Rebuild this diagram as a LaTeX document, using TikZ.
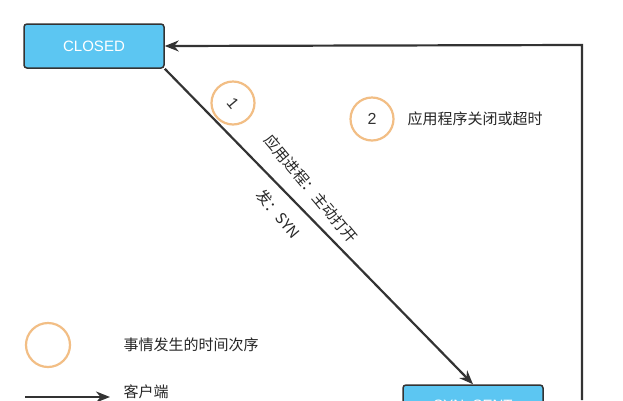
\documentclass[tikz,border=0pt]{standalone}
\usepackage{fontspec}
\setmainfont{Liberation Sans}
\newfontfamily\cjk{Noto Sans CJK SC}
\usetikzlibrary{arrows.meta}
\definecolor{boxblue}{HTML}{5CC6F2}
\definecolor{ring}{HTML}{F2BE85}
\tikzset{
  state/.style={draw=black!80,line width=1.5pt,fill=boxblue,rounded corners=3pt,minimum width=140pt,minimum height=44pt,text=white,font=\fontsize{15}{17}\selectfont},
  order/.style={draw=ring,line width=2.2pt,circle,minimum size=43pt,font=\fontsize{16}{18}\selectfont,text=black!80},
  conn/.style={draw=black!80,line width=2.2pt,-{Stealth[length=14pt,width=11pt]}},
  lbl/.style={font=\cjk\fontsize{15}{18}\selectfont,text=black!85}
}
\begin{document}
\begin{tikzpicture}[x=1pt,y=-1pt]
\clip (0,0) rectangle (623,400);
\fill[white] (0,0) rectangle (623,400);
\node[state] (closed) at (94,46) {CLOSED};
\node[state] (sent) at (473,407) {SYN\_SENT};
\node[order] (c1) at (233,103) {\rotatebox{-50}{1}};
\node[order] (c2) at (372,119) {2};
\node[lbl,anchor=west] (t2) at (404,119) {应用程序关闭或超时};
\draw[conn] (closed.south east) -- (sent.north);
\node[lbl,rotate=-50] (t1) at (311,189) {应用进程：主动打开};
\node[lbl,rotate=-50] (t1b) at (278,214) {发：SYN};
\coordinate (rb) at (582,400);
\coordinate (rt) at (582,45);
\draw[conn] (rb) -- (rt) -- (closed.east);
\node[order,minimum size=44pt] (lc) at (48,345) {};
\node[lbl,anchor=west] (lt) at (120,345) {事情发生的时间次序};
\coordinate (la) at (25,397);
\coordinate (lb) at (110,397);
\draw[conn] (la) -- (lb);
\node[lbl,anchor=west] (lt2) at (120,392) {客户端};
\end{tikzpicture}
\end{document}
